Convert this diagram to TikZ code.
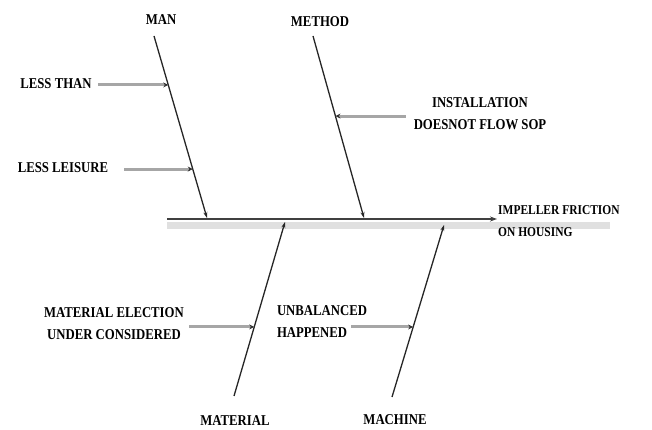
\documentclass[tikz,border=0pt]{standalone}
\usepackage{fontspec}
\setmainfont{Liberation Serif}[FakeStretch=0.85]
\usetikzlibrary{positioning, calc, arrows.meta}

\begin{document}
\begin{tikzpicture}[x=1pt, y=1pt,
        lbl/.style={font=\bfseries\fontsize{15}{22}\selectfont, inner sep=1pt, align=center},
        spine/.style={draw=black!75, line width=1.3pt, -{Stealth[length=7pt, width=5pt]}},
        bone/.style={draw=black!85, line width=1.3pt, -{Stealth[length=6pt, width=4pt]}},
        cause/.style={draw=black!35, line width=3pt, -{Stealth[length=5pt, width=5pt, color=black!80]}},
    ]
        \useasboundingbox (0,0) rectangle (652,430);

        % Head and spine
        \fill[black!12] (167,201) rectangle (610,208);
        \node[lbl, align=left, anchor=west, font=\bfseries\fontsize{13.5}{22}\selectfont, xscale=1] (effect) at (497,209) {IMPELLER FRICTION\\ ON HOUSING};
        \coordinate (tail) at (167,211);
        \draw[spine] (tail) -- (effect.west |- tail);

        % Categories
        \node[lbl] (man) at (161,410) {MAN};
        \node[lbl] (method) at (320,408) {METHOD};
        \node[lbl] (material) at (235,9) {MATERIAL};
        \node[lbl] (machine) at (395,10) {MACHINE};

        % Bones
        \coordinate (manTop) at (154,394);
        \coordinate (manEnd) at (207,212);
        \coordinate (methTop) at (313,394);
        \coordinate (methEnd) at (364,212);
        \coordinate (matTop) at (234,34);
        \coordinate (matEnd) at (285,208);
        \coordinate (machTop) at (392,33);
        \coordinate (machEnd) at (444,205);
        \draw[bone] (manTop) -- (manEnd);
        \draw[bone] (methTop) -- (methEnd);
        \draw[bone] (matTop) -- (matEnd);
        \draw[bone] (machTop) -- (machEnd);

        \coordinate (man1) at ($(manTop)!0.269!(manEnd)$);
        \coordinate (man2) at ($(manTop)!0.731!(manEnd)$);
        \coordinate (meth1) at ($(methTop)!0.44!(methEnd)$);
        \coordinate (mat1) at ($(matTop)!0.397!(matEnd)$);
        \coordinate (mach1) at ($(machTop)!0.407!(machEnd)$);

        % Causes
        \node[lbl] (lessthan) at (56,346) {LESS THAN};
        \node[lbl] (leisure) at (63,262) {LESS LEISURE};
        \node[lbl] (install) at (480,316) {INSTALLATION\\DOESNOT FLOW SOP};
        \node[lbl] (election) at (114,106) {MATERIAL ELECTION\\UNDER CONSIDERED};
        \node[lbl, align=left] (unbal) at (322,108) {UNBALANCED\\HAPPENED};

        \draw[cause, shorten <=5pt] (lessthan.east |- man1) -- (man1);
        \draw[cause, shorten <=15pt] (leisure.east |- man2) -- (man2);
        \draw[cause, shorten <=7pt] (install.west |- meth1) -- (meth1);
        \draw[cause, shorten <=4pt] (election.east |- mat1) -- (mat1);
        \draw[cause] ([xshift=-17pt]unbal.east |- mach1) -- (mach1);
    \end{tikzpicture}
\end{document}
